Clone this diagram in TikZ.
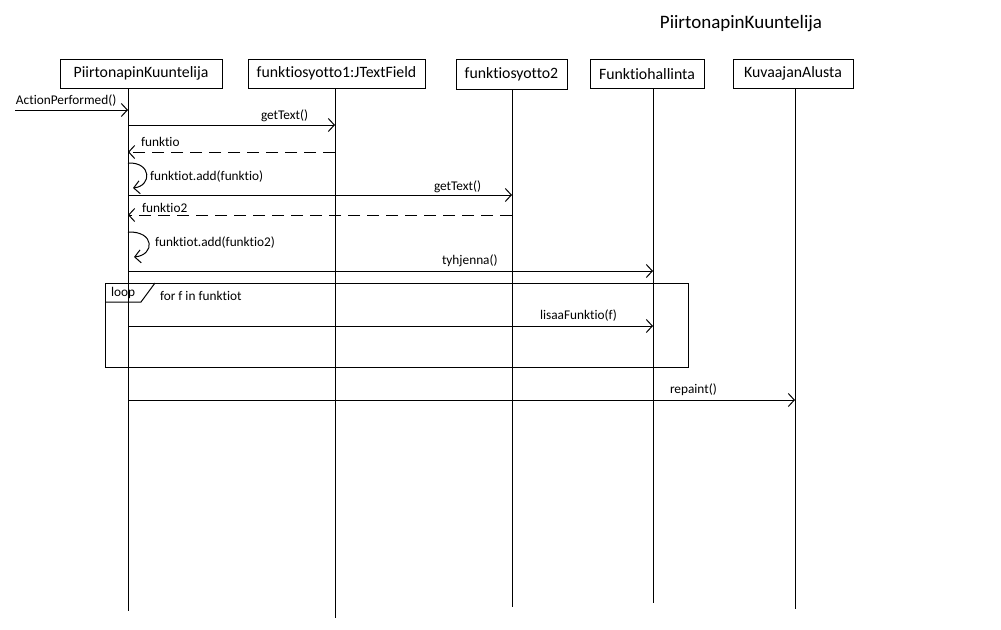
\documentclass[tikz,border=0pt]{standalone}
\usepackage{fontspec}
\setmainfont{Carlito}[Ligatures=CommonOff]
\usetikzlibrary{arrows.meta}
\begin{document}
\begin{tikzpicture}[x=1pt,y=-1pt,
  every node/.style={inner sep=0pt, outer sep=0pt},
  obj/.style={draw, line width=1pt, font=\fontsize{15.8}{17}\selectfont, anchor=center},
  lifeline/.style={line width=1pt},
  msg/.style={line width=1pt, -{Straight Barb[length=6pt,width=13pt,line width=1pt]}},
  ret/.style={msg, dash pattern=on 12pt off 7pt},
  lbl/.style={font=\fontsize{13.3}{15}\selectfont, anchor=base west},
  frame/.style={line width=1pt}]
\useasboundingbox (0,0) rectangle (1001,629);
% title
\node[font=\fontsize{19}{21}\selectfont] (title) at (741,24) {PiirtonapinKuuntelija};
% objects
\node[obj, minimum width=162pt, minimum height=29pt] (b1) at (141,73.5) {PiirtonapinKuuntelija};
\node[obj, minimum width=177pt, minimum height=29pt] (b2) at (336.5,73.5) {funktiosyotto1:JTextField};
\node[obj, minimum width=111pt, minimum height=30pt] (b3) at (511.5,74) {funktiosyotto2};
\node[obj, minimum width=114pt, minimum height=29pt] (b4) at (647,74) {Funktiohallinta};
\node[obj, minimum width=120pt, minimum height=29pt] (b5) at (793,73.5) {KuvaajanAlusta};
% lifeline ends
\coordinate (e1) at (128,611);
\coordinate (e2) at (335,618);
\coordinate (e3) at (512,607);
\coordinate (e4) at (653,603);
\coordinate (e5) at (795,609);
\draw[lifeline] (b1.south -| e1) -- (e1);
\draw[lifeline] (b2.south -| e2) -- (e2);
\draw[lifeline] (b3.south -| e3) -- (e3);
\draw[lifeline] (b4.south -| e4) -- (e4);
\draw[lifeline] (b5.south -| e5) -- (e5);
% found message
\coordinate (start) at (15,110);
\draw[msg] (start) -- (e1 |- start);
\node[lbl] (m0) at (16,104) {ActionPerformed()};
% getText 1
\draw[msg] (e1 |- 0,125) -- (e2 |- 0,125);
\node[lbl] (m1) at (261,119) {getText()};
% funktio return
\draw[ret] (e2 |- 0,152) -- (e1 |- 0,152);
\node[lbl] (m2) at (141,146) {funktio};
% self call 1
\draw[msg] (e1 |- 0,163) .. controls (152,162) and (152,186) .. (133,188);
\node[lbl] (m3) at (150,180) {funktiot.add(funktio)};
% getText 2
\draw[msg] (e1 |- 0,195) -- (e3 |- 0,195);
\node[lbl] (m4) at (434,190) {getText()};
% funktio2 return
\draw[ret] (e3 |- 0,215) -- (e1 |- 0,215);
\node[lbl] (m5) at (142,212) {funktio2};
% self call 2
\draw[msg] (e1 |- 0,232) .. controls (155,231) and (155,255) .. (134,257);
\node[lbl] (m6) at (155,246) {funktiot.add(funktio2)};
% tyhjenna
\draw[msg] (e1 |- 0,271) -- (e4 |- 0,271);
\node[lbl] (m7) at (442,264) {tyhjenna()};
% loop frame
\draw[frame] (105,283) rectangle (688,367);
\draw[frame] (105,302) -- (141,302) -- (155,283);
\node[lbl] (loop) at (111,296) {loop};
\node[lbl] (cond) at (160,300) {for f in funktiot};
% lisaaFunktio
\draw[msg] (e1 |- 0,326) -- (e4 |- 0,326);
\node[lbl] (m8) at (540,319) {lisaaFunktio(f)};
% repaint
\draw[msg] (e1 |- 0,400) -- (e5 |- 0,400);
\node[lbl] (m9) at (670,393) {repaint()};
\end{tikzpicture}
\end{document}
